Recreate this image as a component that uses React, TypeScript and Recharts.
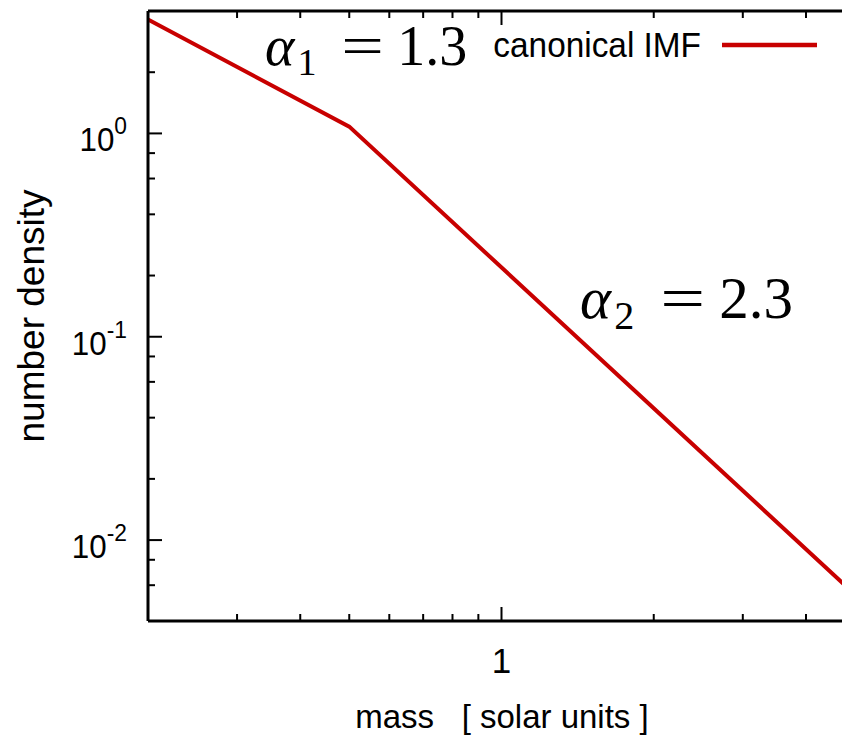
import React from 'react';
import { LineChart, Line, XAxis, YAxis, ReferenceLine, Legend } from 'recharts';

// ---- data ----
const mass = [0.2, 0.5, 5];
const density = [3.63, 1.08, 0.0054];
const seriesName = 'canonical IMF';
const seriesColor = '#c80000';

const massTicks = [0.2, 0.3, 0.4, 0.5, 0.6, 0.7, 0.8, 0.9, 1, 2, 3, 4, 5];
const massMajor = [1];
const massMajorLabels = ['1'];
const densityTicks = [0.004, 0.006, 0.008, 0.01, 0.02, 0.04, 0.06, 0.08, 0.1, 0.2, 0.4, 0.6, 0.8, 1, 2, 4];
const densityMajor = [0.01, 0.1, 1];
const densityExponents = ['-2', '-1', '0'];
const massDomain = [0.2, 5];
const densityDomain = [0.004, 4];

const xTitle = 'mass   [ solar units ]';
const yTitle = 'number density';

const data = mass.map((m, i) => ({ m, n: density[i] }));

// ---- layout constants ----
const W = 860;
const H = 738;
const PLOT_LEFT = 148;
const PLOT_TOP = 11;
const PLOT_BOTTOM = 621;
const SANS = '"Liberation Sans", Arial, Helvetica, sans-serif';
const SERIF = '"Liberation Serif", "Times New Roman", serif';

const XTick = (props: any) => {
  const { payload } = props;
  const x = payload.coordinate;
  const idx = massMajor.indexOf(payload.value);
  const major = idx >= 0;
  const len = major ? 14 : 7;
  return (
    <g>
      <line x1={x} x2={x} y1={PLOT_BOTTOM} y2={PLOT_BOTTOM - len} stroke="#000" strokeWidth={2} />
      <line x1={x} x2={x} y1={PLOT_TOP} y2={PLOT_TOP + len} stroke="#000" strokeWidth={2} />
      {major && (
        <text x={x} y={673} textAnchor="middle" fontFamily={SANS} fontSize={35} fill="#000">
          {massMajorLabels[idx]}
        </text>
      )}
    </g>
  );
};

const YTick = (props: any) => {
  const { payload } = props;
  const y = payload.coordinate;
  const idx = densityMajor.indexOf(payload.value);
  const major = idx >= 0;
  const len = major ? 14 : 7;
  return (
    <g>
      <line x1={PLOT_LEFT} x2={PLOT_LEFT + len} y1={y} y2={y} stroke="#000" strokeWidth={2} />
      {major && (
        <text
          x={0}
          y={0}
          textAnchor="end"
          fontFamily={SANS}
          fontSize={33}
          fill="#000"
          transform={`translate(127,${y + 18}) scale(0.95,1)`}
        >
          10
          <tspan dy={-17} fontSize={24}>
            {densityExponents[idx]}
          </tspan>
        </text>
      )}
    </g>
  );
};

const LegendContent = (props: any) => {
  const item = (props.payload && props.payload[0]) || { value: seriesName, color: seriesColor };
  return (
    <svg width={842} height={80} style={{ display: 'block' }}>
      <text
        x={0}
        y={0}
        textAnchor="end"
        fontFamily={SANS}
        fontSize={35.5}
        fill="#000"
        transform="translate(701,57) scale(0.94,1)"
      >
        {item.value}
      </text>
      <line x1={722} x2={817} y1={45} y2={45} stroke={item.color} strokeWidth={4.5} />
    </svg>
  );
};

const Alpha = ({ x, y, sub, value, size }: any) => (
  <g fontFamily={SERIF} fill="#000">
    <text x={x} y={y} fontSize={size} fontStyle="italic">α</text>
    <text x={x + size * 0.58} y={y + size * 0.18} fontSize={size * 0.68}>{sub}</text>
    <text
      x={0}
      y={0}
      fontSize={size}
      textAnchor="middle"
      transform={`translate(${x + size * 1.74},${y}) scale(1.35,1)`}
    >
      =
    </text>
    <text x={x + size * 2.36} y={y} fontSize={size}>{value}</text>
  </g>
);

export default function App() {
  return (
    <div
      style={{
        position: 'absolute',
        left: 0,
        top: 0,
        width: 842,
        height: 738,
        overflow: 'hidden',
        background: '#fff',
      }}
    >
      <LineChart width={W} height={H} data={data} margin={{ top: PLOT_TOP, right: 5, bottom: 0, left: 0 }}>
        <XAxis
          dataKey="m"
          type="number"
          scale="log"
          domain={massDomain}
          allowDataOverflow
          ticks={massTicks}
          interval={0}
          height={117}
          tickLine={false}
          axisLine={{ stroke: '#000', strokeWidth: 3 }}
          tick={<XTick />}
          label={{
            value: xTitle,
            content: () => (
              <text x={502} y={728} textAnchor="middle" fontFamily={SANS} fontSize={33} fill="#000" style={{ whiteSpace: 'pre' }}>
                {xTitle}
              </text>
            ),
          }}
        />
        <YAxis
          type="number"
          scale="log"
          domain={densityDomain}
          allowDataOverflow
          ticks={densityTicks}
          interval={0}
          width={PLOT_LEFT}
          tickLine={false}
          axisLine={{ stroke: '#000', strokeWidth: 3 }}
          tick={<YTick />}
          label={{
            value: yTitle,
            content: () => (
              <text
                x={31}
                y={316}
                transform="rotate(-90 31 316)"
                textAnchor="middle"
                dominantBaseline="central"
                fontFamily={SANS}
                fontSize={37}
                fill="#000"
              >
                {yTitle}
              </text>
            ),
          }}
        />
        <ReferenceLine y={densityDomain[1]} stroke="#000" strokeWidth={3} ifOverflow="visible" />
        <ReferenceLine x={massDomain[1]} stroke="#000" strokeWidth={3} ifOverflow="visible" />
        <Legend
          verticalAlign="middle"
          align="center"
          layout="horizontal"
          wrapperStyle={{ top: 0, left: 0, width: 842, height: 80 }}
          content={<LegendContent />}
        />
        <Line
          type="linear"
          dataKey="n"
          name={seriesName}
          stroke={seriesColor}
          strokeWidth={4}
          dot={false}
          isAnimationActive={false}
        />
      </LineChart>
      <svg width={842} height={738} style={{ position: 'absolute', left: 0, top: 0, pointerEvents: 'none' }}>
        <Alpha x={265} y={65} sub="1" value="1.3" size={56} />
        <Alpha x={580} y={318} sub="2" value="2.3" size={59} />
      </svg>
    </div>
  );
}
